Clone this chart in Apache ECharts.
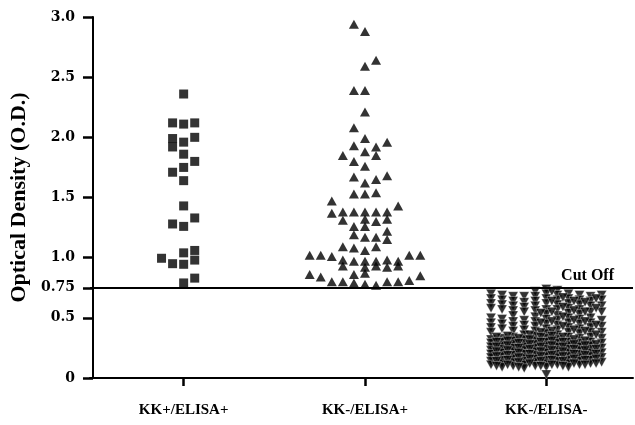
<!DOCTYPE html>
<html>
<head>
<meta charset="utf-8">
<script src="https://cdn.jsdelivr.net/npm/echarts@6/dist/echarts.min.js"></script>
<style>html,body{margin:0;padding:0;background:#fff}#c{width:635px;height:425px}</style>
</head>
<body>
<div id="c"></div>
<script>
// ---- data ----
var categories = ['KK+/ELISA+', 'KK-/ELISA+', 'KK-/ELISA-'];
var yTickValues = [0, 0.5, 0.75, 1, 1.5, 2, 2.5, 3];
var yTickLabels = ['0', '0.5', '0.75', '1.0', '1.5', '2.0', '2.5', '3.0'];
var cutOff = 0.75;

// [column offset within the dot column, O.D. value]
var kkPosElisaPos = [
  [0,2.36],[-1,2.12],[0,2.11],[1,2.12],[1,2.00],[-1,1.99],[-1,1.92],[0,1.96],
  [0,1.86],[1,1.80],[0,1.75],[-1,1.71],[0,1.64],[0,1.43],[1,1.33],[-1,1.28],
  [0,1.26],[0,1.04],[1,1.06],[1,0.98],[-2,0.995],[-1,0.95],[0,0.945],[1,0.83],[0,0.79]
];
var kkNegElisaPos = [
  [-1,2.94],[0,2.88],[1,2.64],[0,2.59],[-1,2.39],[0,2.39],[0,2.21],[-1,2.08],
  [0,1.99],[-1,1.93],[1,1.92],[2,1.96],[0,1.88],[-2,1.85],[1,1.85],
  [-1,1.80],[0,1.76],[-1,1.67],[1,1.65],[2,1.68],[0,1.62],[-1,1.53],[0,1.53],[1,1.54],
  [-3,1.47],[3,1.43],
  [-3,1.37],[-2,1.38],[-1,1.38],[0,1.38],[1,1.38],[2,1.38],
  [-2,1.31],[0,1.32],[1,1.30],[2,1.32],
  [-1,1.26],[0,1.26],[2,1.22],
  [-1,1.19],[0,1.17],[1,1.17],[2,1.15],
  [-2,1.09],[-1,1.08],[0,1.06],[1,1.09],
  [-5,1.02],[-4,1.02],[-3,1.01],[4,1.02],[5,1.02],
  [-2,0.98],[-1,0.97],[0,0.97],[1,0.97],[2,0.98],[3,0.97],
  [-2,0.93],[0,0.92],[1,0.93],[2,0.92],[3,0.93],
  [-5,0.86],[-4,0.84],[-1,0.86],[0,0.87],[5,0.85],
  [-3,0.80],[-2,0.80],[-1,0.79],[0,0.78],[1,0.77],[2,0.80],[3,0.80],[4,0.81]
];
// per column (offset from the group centre) lists of O.D. values
var kkNegElisaNegCols = [
  [-5,[0.70,0.66,0.62,0.58,0.50,0.46,0.42,0.38,0.32,0.29,0.26,0.23,0.20,0.17,0.14,0.11]],
  [-4,[0.69,0.65,0.61,0.57,0.49,0.45,0.41,0.33,0.30,0.27,0.24,0.21,0.18,0.15,0.12,0.09]],
  [-3,[0.68,0.64,0.60,0.56,0.52,0.47,0.43,0.39,0.34,0.31,0.28,0.25,0.22,0.19,0.16,0.13,0.10]],
  [-2,[0.68,0.63,0.59,0.55,0.48,0.44,0.40,0.36,0.32,0.29,0.26,0.23,0.20,0.17,0.14,0.11,0.08]],
  [-1,[0.72,0.68,0.64,0.60,0.56,0.51,0.47,0.43,0.39,0.35,0.31,0.28,0.25,0.22,0.19,0.16,0.13,0.10]],
  [0,[0.74,0.70,0.66,0.62,0.57,0.53,0.49,0.45,0.41,0.37,0.33,0.30,0.27,0.24,0.21,0.18,0.15,0.12,0.09,0.03]],
  [1,[0.73,0.69,0.65,0.61,0.57,0.52,0.48,0.44,0.40,0.36,0.32,0.29,0.26,0.23,0.20,0.17,0.14,0.11]],
  [2,[0.70,0.66,0.62,0.58,0.54,0.50,0.46,0.42,0.38,0.34,0.30,0.27,0.24,0.21,0.18,0.15,0.12,0.09]],
  [3,[0.69,0.65,0.61,0.57,0.53,0.49,0.45,0.41,0.37,0.33,0.29,0.26,0.23,0.20,0.17,0.14,0.11]],
  [4,[0.68,0.64,0.60,0.55,0.50,0.46,0.42,0.38,0.34,0.30,0.27,0.24,0.21,0.18,0.15,0.12]],
  [5,[0.69,0.65,0.60,0.55,0.48,0.43,0.38,0.33,0.29,0.25,0.21,0.17,0.13]],
  [-4.5,[0.34,0.30,0.26,0.22,0.18,0.14,0.10]],
  [-3.5,[0.35,0.31,0.27,0.23,0.19,0.15,0.11]],
  [-2.5,[0.33,0.29,0.25,0.21,0.17,0.13,0.09]],
  [-1.5,[0.36,0.32,0.28,0.24,0.20,0.16,0.12]],
  [-0.5,[0.54,0.46,0.38,0.34,0.30,0.26,0.22,0.18,0.14,0.10]],
  [0.5,[0.72,0.64,0.55,0.47,0.39,0.35,0.31,0.27,0.23,0.19,0.15,0.11]],
  [1.5,[0.67,0.59,0.51,0.43,0.34,0.30,0.26,0.22,0.18,0.14,0.10]],
  [2.5,[0.64,0.56,0.48,0.40,0.32,0.28,0.24,0.20,0.16,0.12]],
  [3.5,[0.63,0.55,0.47,0.39,0.31,0.27,0.23,0.19,0.15,0.11]],
  [4.5,[0.66,0.58,0.44,0.36,0.28,0.24,0.20,0.16,0.12]]
];

// ---- layout ----
var colStep = 0.061;
function place(groupIdx, pairs) {
  return pairs.map(function (p) { return [groupIdx + 0.5 + p[0] * colStep, p[1]]; });
}
var g3 = [];
kkNegElisaNegCols.forEach(function (c) { c[1].forEach(function (v) { g3.push([c[0], v]); }); });

var serif = '"Liberation Serif", "Times New Roman", serif';
var tickFont = '"DejaVu Serif", "Liberation Serif", serif';
var chart = echarts.init(document.getElementById('c'));
chart.setOption({
  animation: false,
  grid: { left: 88, right: 2, top: 17, bottom: 47, containLabel: false },
  xAxis: {
    type: 'value', min: -0.0165, max: 2.978,
    axisLine: { show: true, onZero: false, lineStyle: { color: '#000', width: 2 } },
    axisTick: { show: true, length: 8, lineStyle: { color: '#000', width: 2.5 }, customValues: [0.5, 1.5, 2.5] },
    axisLabel: {
      customValues: [0.5, 1.5, 2.5], margin: 25,
      color: '#000', fontFamily: serif, fontWeight: 'bold', fontSize: 15,
      formatter: function (v) { return categories[Math.round(v - 0.5)]; }
    },
    splitLine: { show: false }
  },
  yAxis: {
    type: 'value', min: 0, max: 3,
    name: 'Optical Density (O.D.)', nameLocation: 'middle', nameGap: 56,
    nameTextStyle: { color: '#000', fontFamily: serif, fontWeight: 'bold', fontSize: 22 },
    axisLine: { show: true, lineStyle: { color: '#000', width: 2 } },
    axisTick: { show: true, length: 10, lineStyle: { color: '#000', width: 2.5 }, customValues: yTickValues },
    axisLabel: {
      customValues: yTickValues, margin: 15,
      color: '#000', fontFamily: tickFont, fontWeight: 'bold', fontSize: 14,
      formatter: function (v) {
        var i = yTickValues.indexOf(v);
        return i >= 0 ? yTickLabels[i] : '';
      }
    },
    splitLine: { show: false }
  },
  series: [
    {
      type: 'scatter', symbol: 'rect', symbolSize: 9,
      itemStyle: { color: '#000' },
      data: place(0, kkPosElisaPos),
      markLine: {
        silent: true, symbol: 'none',
        lineStyle: { color: '#000', width: 2, type: 'solid' },
        label: {
          show: true, position: 'insideEndTop', formatter: 'Cut Off',
          color: '#000', fontFamily: serif, fontWeight: 'bold', fontSize: 16, distance: [19, 4]
        },
        data: [{ yAxis: cutOff }]
      }
    },
    {
      type: 'scatter', symbol: 'triangle', symbolSize: [10, 9],
      itemStyle: { color: '#000' },
      data: place(1, kkNegElisaPos)
    },
    {
      type: 'scatter', symbol: 'triangle', symbolSize: [10, 9], symbolRotate: 180,
      itemStyle: { color: '#000', borderColor: '#fff', borderWidth: 0.4 },
      data: place(2, g3)
    }
  ]
});
</script>
</body>
</html>
